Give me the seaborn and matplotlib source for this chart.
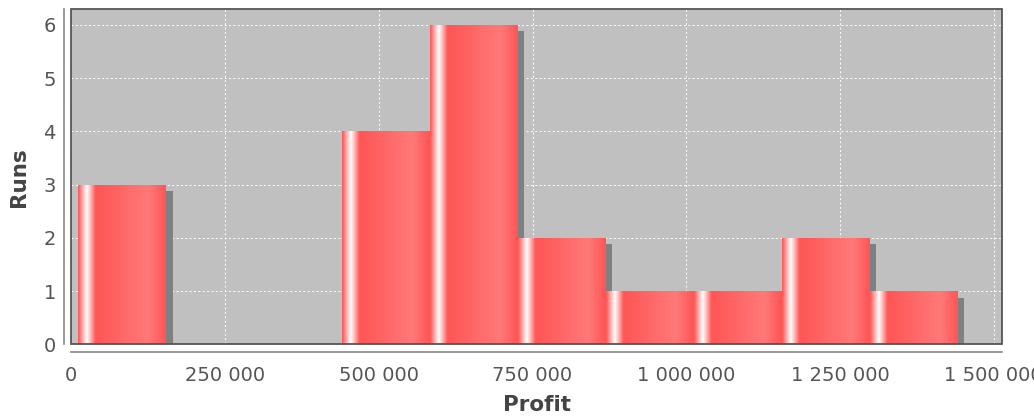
import numpy as np
import pandas as pd
import matplotlib
matplotlib.use("Agg")
import matplotlib.pyplot as plt
import matplotlib.patheffects as pe
from matplotlib.colors import LinearSegmentedColormap
from matplotlib.patches import Rectangle
from matplotlib.ticker import FuncFormatter
import seaborn as sns

# histogram bins (profit, runs per bin)
BIN_EDGES = [10900, 154000, 297100, 440200, 583300, 726400,
             869500, 1012600, 1155700, 1298800, 1441900]
RUN_COUNTS = [3, 0, 0, 4, 6, 2, 1, 1, 2, 1]
X_TICKS = [0, 250000, 500000, 750000, 1000000, 1250000, 1500000]
Y_TICKS = [0, 1, 2, 3, 4, 5, 6]

BAR_RED   = "#FF5555"
BAR_LIGHT = "#FF7979"
PLOT_BG   = "#C0C0C0"
SHADOW    = "#808080"
TEXT_COL  = "#444444"
TICK_COL  = "#555555"
AXIS_COL  = "#888888"

df = pd.DataFrame({
    "lo": BIN_EDGES[:-1],
    "hi": BIN_EDGES[1:],
    "runs": RUN_COUNTS,
})
df["mid"] = (df["lo"] + df["hi"]) / 2

sns.set_style("white")
plt.rcParams["font.family"] = ["DejaVu Sans"]

W, H = 1034, 419
fig = plt.figure(figsize=(W / 100, H / 100), dpi=100)
ax = fig.add_axes([71.3 / W, 1 - 344.3 / H, (1001.7 - 71.3) / W, (344.3 - 9.3) / H])
ax.set_facecolor(PLOT_BG)

sns.histplot(data=df, x="mid", weights="runs", bins=BIN_EDGES, ax=ax,
             color=BAR_RED, alpha=1, linewidth=0, edgecolor="none")

# gradient fill (JFreeChart style) + drop shadow on each bar
grad = LinearSegmentedColormap.from_list(
    "bar", [(0.0, BAR_RED), (0.10, "#FFFFFF"), (0.20, BAR_RED),
            (0.80, BAR_LIGHT), (1.0, BAR_RED)])
img = np.linspace(0, 1, 256).reshape(1, -1)
shadow_off = 6.5 * 72 / 100
for p in ax.patches:
    p.set_path_effects([
        pe.SimplePatchShadow(offset=(shadow_off, -shadow_off),
                             shadow_rgbFace=SHADOW, alpha=1.0, rho=1.0),
        pe.Normal(),
    ])
    x0, w, h = p.get_x(), p.get_width(), p.get_height()
    if h <= 0:
        continue
    im = ax.imshow(img, cmap=grad, extent=[x0, x0 + w, 0, h],
                   aspect="auto", interpolation="bilinear", zorder=3)
    im.set_clip_path(p)

ax.set_xlim(0, 1513000)
ax.set_ylim(0, 6.29)
ax.set_xticks(X_TICKS)
ax.set_yticks(Y_TICKS)
ax.xaxis.set_major_formatter(FuncFormatter(lambda v, _: f"{int(v):,}".replace(",", " ")))

ax.grid(True, color="white", linestyle=(0, (2, 2.5)), linewidth=0.7)
ax.set_axisbelow(True)

# separate axis lines offset from the plot outline
for side in ["top", "right"]:
    ax.spines[side].set_visible(False)
for side in ["left", "bottom"]:
    ax.spines[side].set_position(("outward", 5.6))
    ax.spines[side].set_color(AXIS_COL)
    ax.spines[side].set_linewidth(1.2)

ax.add_patch(Rectangle((0, 0), 1, 1, transform=ax.transAxes, fill=False,
                       edgecolor="#555555", linewidth=1.3, clip_on=False, zorder=5))

ax.tick_params(axis="both", direction="out", length=3, width=1, color=AXIS_COL,
               labelsize=14, labelcolor=TICK_COL)
ax.tick_params(axis="x", pad=7)
ax.tick_params(axis="y", pad=2.5)

ax.set_xlabel("Profit", fontsize=15.5, fontweight="bold", color=TEXT_COL, labelpad=7)
ax.set_ylabel("Runs", fontsize=15.5, fontweight="bold", color=TEXT_COL, labelpad=10)

fig.savefig("out.png", dpi=100, facecolor="white")
